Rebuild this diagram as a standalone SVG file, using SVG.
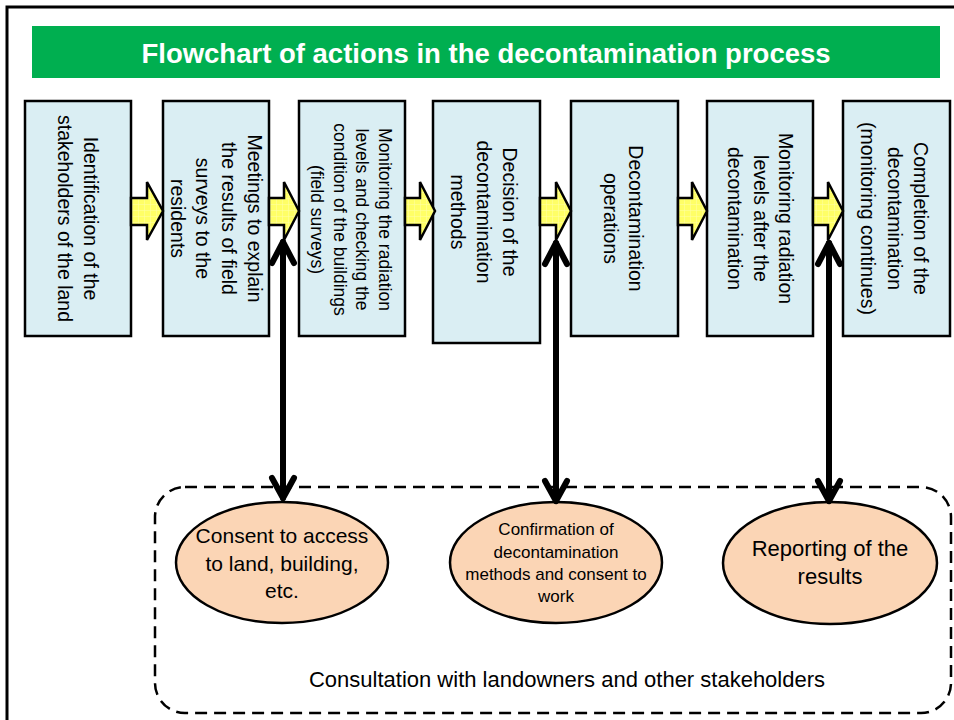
<svg xmlns="http://www.w3.org/2000/svg" width="954" height="720" viewBox="0 0 954 720">
<defs>
<style>
.box{fill:#DAEEF3;stroke:#000;stroke-width:2.5}
.bt{font-family:"Liberation Sans",Arial,sans-serif;font-size:19.5px;fill:#000;text-anchor:middle}
.yarrow{fill:#FFFF70;stroke:#000;stroke-width:2.5;stroke-linejoin:miter}
.barrow{fill:none;stroke:#000;stroke-width:6;stroke-linecap:round;stroke-linejoin:round}
.ell{fill:#FBD5B5;stroke:#000;stroke-width:2.5}
.et{font-family:"Liberation Sans",Arial,sans-serif;fill:#000;text-anchor:middle}
</style>
<pattern id="grid" width="6" height="6" patternUnits="userSpaceOnUse">
<rect width="6" height="6" fill="#FFFF66"/>
<path d="M0 0H6M0 0V6" stroke="#FFFFA8" stroke-width="1"/>
</pattern>
</defs>
<rect x="0" y="0" width="954" height="720" fill="#fff"/>
<rect x="7" y="7" width="970" height="730" fill="none" stroke="#000" stroke-width="3"/>
<g id="title">
<rect x="32" y="26" width="908" height="52" fill="#00AF50"/>
<text x="486" y="63" font-family="'Liberation Sans',Arial,sans-serif" font-size="27.5" font-weight="bold" fill="#fff" text-anchor="middle">Flowchart of actions in the decontamination process</text>
</g>
<g id="step1">
<rect class="box" x="25" y="101" width="106" height="235"/>
<text class="bt" transform="translate(78,218.5) rotate(90)"><tspan x="0" y="-6">Identification of the</tspan><tspan x="0" dy="26">stakeholders of the land</tspan></text>
</g>
<g id="step2">
<rect class="box" x="163" y="101" width="106" height="235"/>
<text class="bt" transform="translate(216,218.5) rotate(90)"><tspan x="0" y="-31.7">Meetings to explain</tspan><tspan x="0" dy="25.7">the results of field</tspan><tspan x="0" dy="25.7">surveys to the</tspan><tspan x="0" dy="25.7">residents</tspan></text>
</g>
<g id="step3">
<rect class="box" x="299" y="101" width="106" height="235"/>
<text class="bt" style="font-size:17.5px" transform="translate(351,219.5) rotate(90)"><tspan x="0" y="-27.6">Monitoring the radiation</tspan><tspan x="0" dy="22.5">levels and checking the</tspan><tspan x="0" dy="22.5">condition of the buildings</tspan><tspan x="0" dy="22.5">(field surveys)</tspan></text>
</g>
<g id="step4">
<rect class="box" x="433" y="101" width="107" height="242"/>
<text class="bt" transform="translate(484,212) rotate(90)"><tspan x="0" y="-19.2">Decision of the</tspan><tspan x="0" dy="26">decontamination</tspan><tspan x="0" dy="26">methods</tspan></text>
</g>
<g id="step5">
<rect class="box" x="571" y="101" width="107" height="235"/>
<text class="bt" transform="translate(623.5,218.5) rotate(90)"><tspan x="0" y="-5.7">Decontamination</tspan><tspan x="0" dy="25">operations</tspan></text>
</g>
<g id="step6">
<rect class="box" x="707" y="101" width="106" height="235"/>
<text class="bt" transform="translate(760.5,218.5) rotate(90)"><tspan x="0" y="-18.7">Monitoring radiation</tspan><tspan x="0" dy="25.5">levels after the</tspan><tspan x="0" dy="25.5">decontamination</tspan></text>
</g>
<g id="step7">
<rect class="box" x="843" y="101" width="107" height="235"/>
<text class="bt" transform="translate(894.5,218.5) rotate(90)"><tspan x="0" y="-19.7">Completion of the</tspan><tspan x="0" dy="26.5">decontamination</tspan><tspan x="0" dy="26.5">(monitoring continues)</tspan></text>
</g>
<g id="consultation">
<rect x="155" y="487" width="796" height="226" rx="30" ry="30" fill="none" stroke="#000" stroke-width="2.5" stroke-dasharray="12 7"/>
<text class="et" x="567" y="687" font-size="22">Consultation with landowners and other stakeholders</text>
</g>
<g id="consent1">
<ellipse class="ell" cx="282" cy="562.5" rx="106" ry="60.5"/>
<text class="et" font-size="21"><tspan x="282" y="543">Consent to access</tspan><tspan x="282" y="570.5">to land, building,</tspan><tspan x="282" y="598">etc.</tspan></text>
</g>
<g id="consent2">
<ellipse class="ell" cx="556" cy="562.5" rx="106" ry="60.5"/>
<text class="et" font-size="17"><tspan x="556" y="535">Confirmation of</tspan><tspan x="556" y="557.5">decontamination</tspan><tspan x="556" y="580">methods and consent to</tspan><tspan x="556" y="602">work</tspan></text>
</g>
<g id="report">
<ellipse class="ell" cx="830" cy="563" rx="107" ry="61"/>
<text class="et" font-size="22"><tspan x="830" y="556">Reporting of the</tspan><tspan x="830" y="584">results</tspan></text>
</g>
<g id="connectors">
<path class="yarrow" style="fill:url(#grid)" d="M131,198 H147 V182 L163,211 L147,240 V225 H131 Z"/>
<path class="yarrow" style="fill:url(#grid)" d="M269,198 H284 V182 L299,211 L284,240 V225 H269 Z"/>
<path class="yarrow" style="fill:url(#grid)" d="M405,198 H420 V182 L435,211 L420,240 V225 H405 Z"/>
<path class="yarrow" style="fill:url(#grid)" d="M540,198 H556 V182 L571,211 L556,240 V225 H540 Z"/>
<path class="yarrow" style="fill:url(#grid)" d="M678,198 H692 V182 L707,211 L692,240 V225 H678 Z"/>
<path class="yarrow" style="fill:url(#grid)" d="M813,198 H828 V182 L843,211 L828,240 V225 H813 Z"/>
<g class="barrow">
<path d="M283,242 V498"/><path d="M272,263 L283,242 L294,263"/><path d="M272,478 L283,498 L294,478"/>
<path d="M556,243 V501"/><path d="M545,264 L556,243 L567,264"/><path d="M545,481 L556,501 L567,481"/>
<path d="M829,243 V501"/><path d="M818,264 L829,243 L840,264"/><path d="M818,481 L829,501 L840,481"/>
</g>
</g>
</svg>
